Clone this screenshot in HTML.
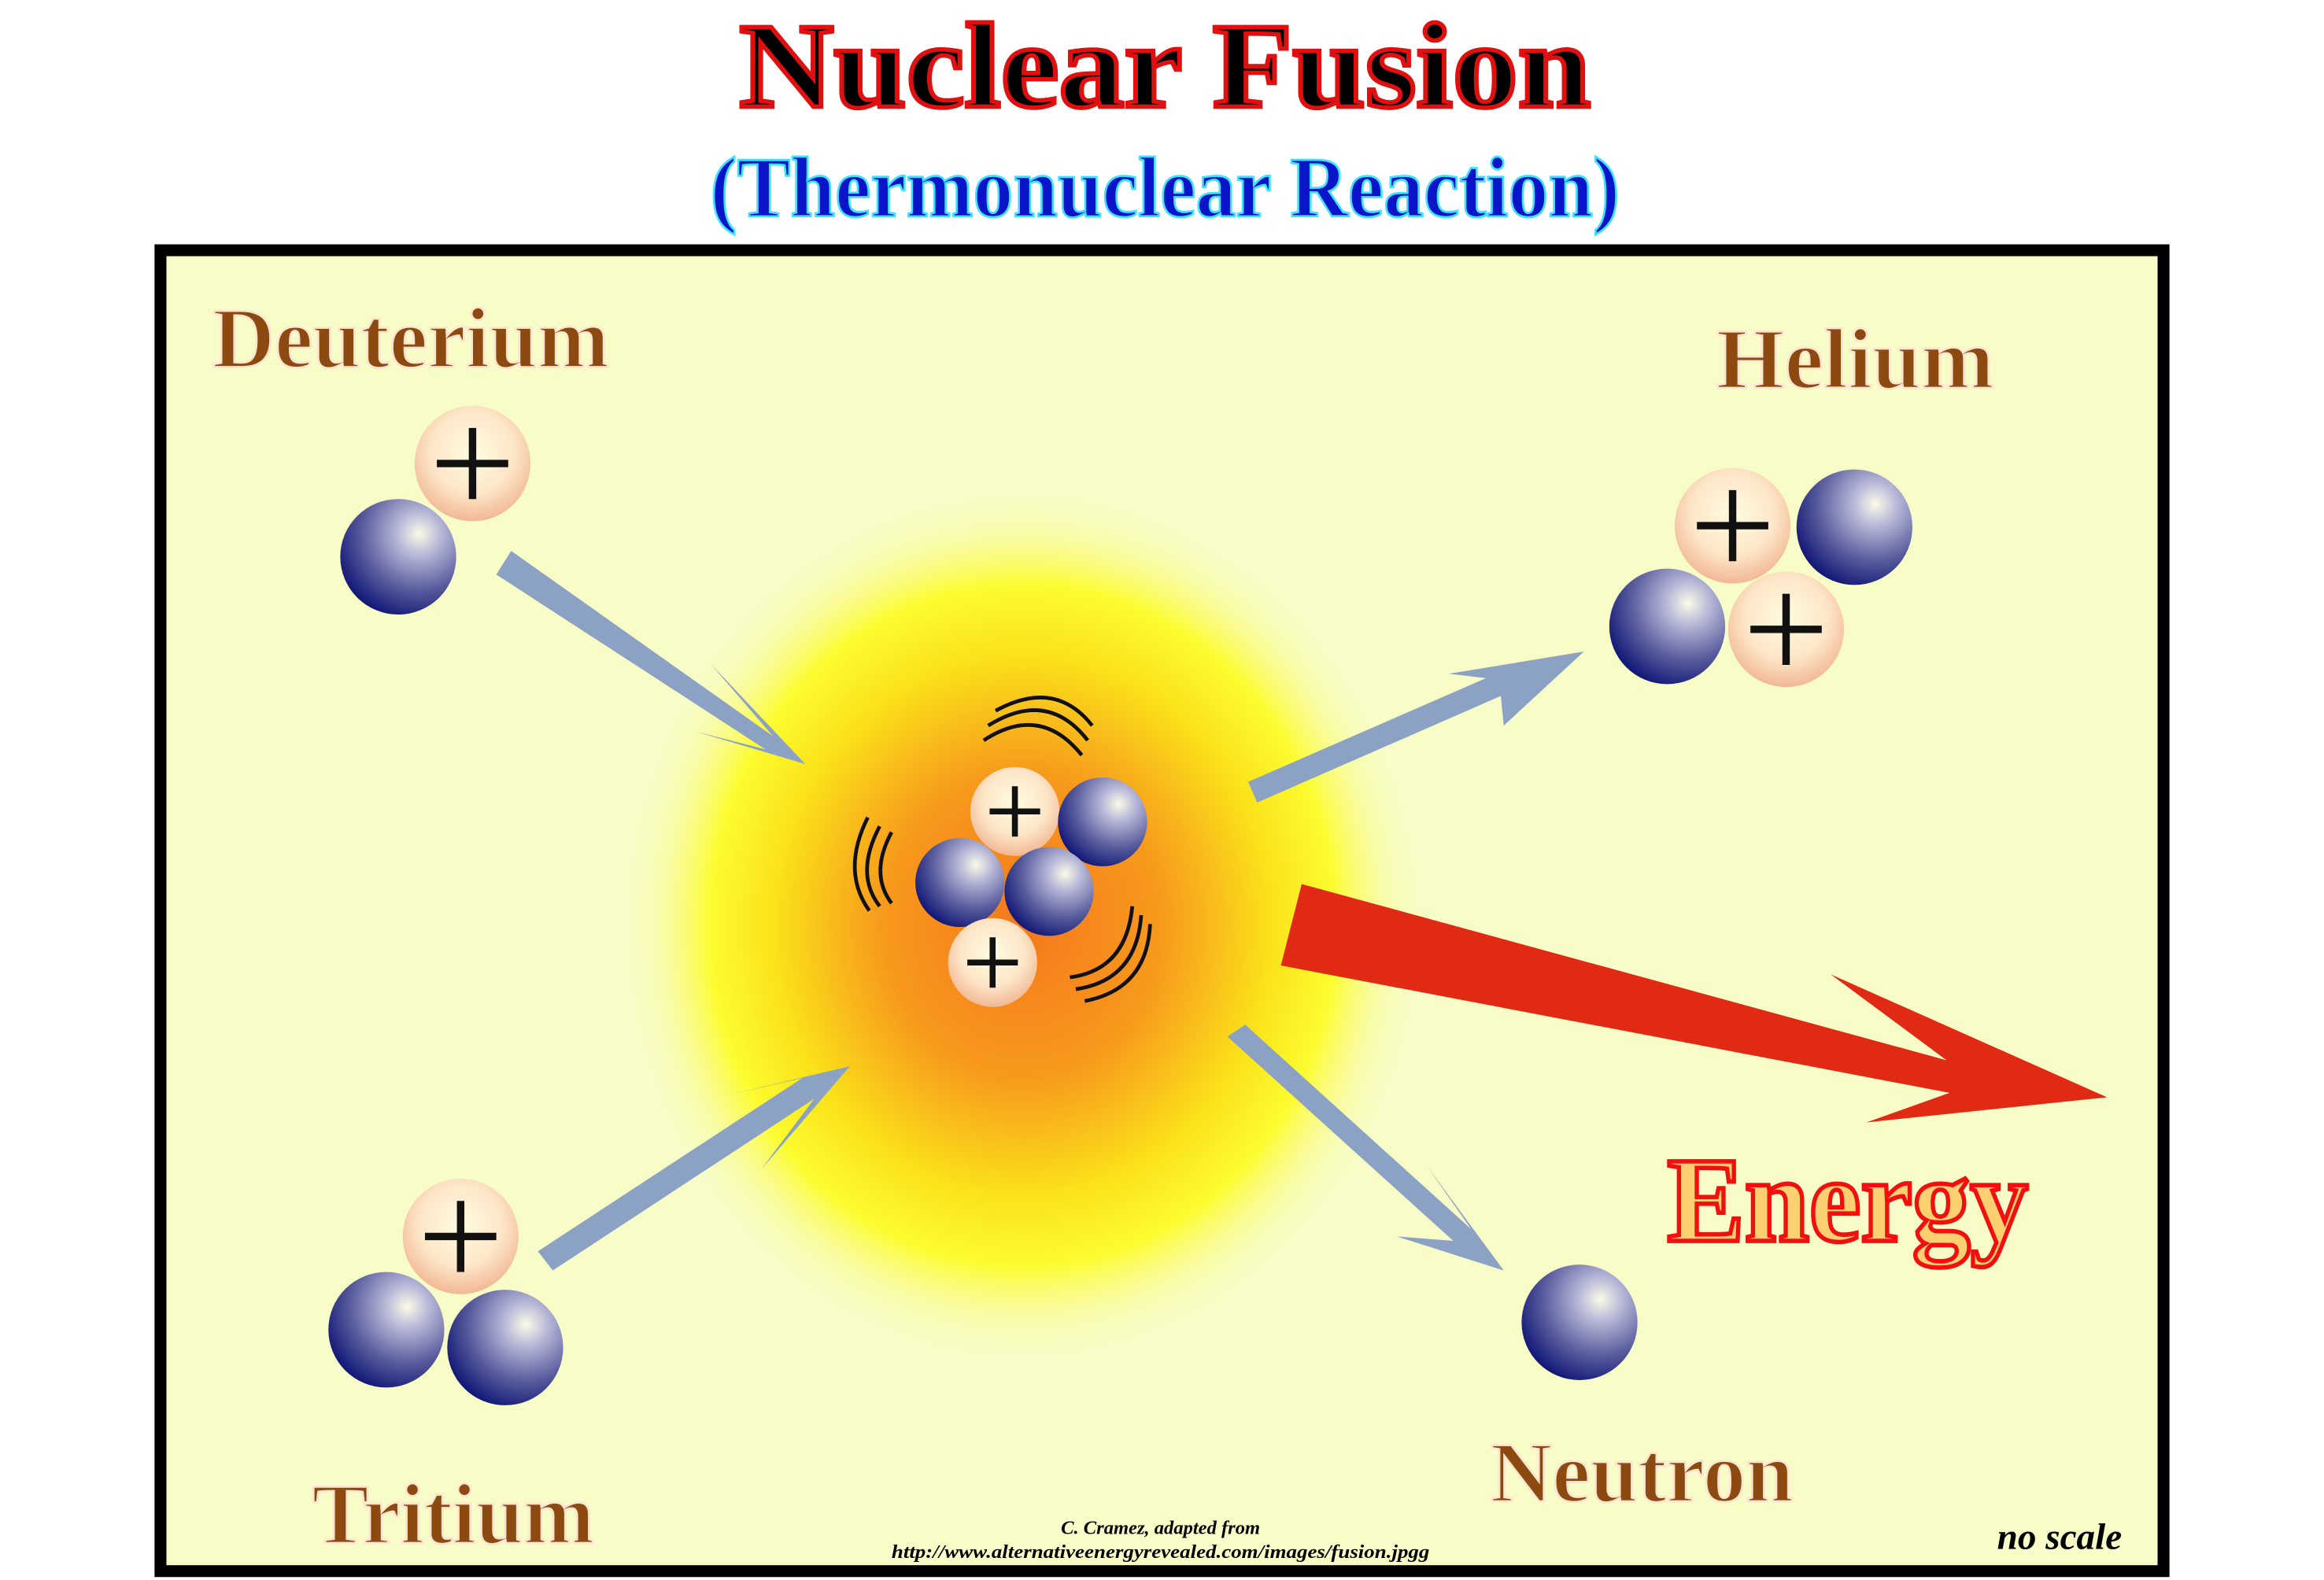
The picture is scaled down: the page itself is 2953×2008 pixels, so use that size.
<!DOCTYPE html>
<html><head><meta charset="utf-8"><style>html,body{margin:0;padding:0;background:#fff}svg{display:block}</style></head>
<body>
<svg width="2953" height="2008" viewBox="0 0 1564 1067" preserveAspectRatio="none" xmlns="http://www.w3.org/2000/svg">
<defs>
<radialGradient id="glow" cx="0.5" cy="0.5" r="0.5">
<stop offset="0" stop-color="#f4781c"/>
<stop offset="0.35" stop-color="#f79a1c"/>
<stop offset="0.62" stop-color="#fbe21a"/>
<stop offset="0.78" stop-color="#fcfc30"/>
<stop offset="1" stop-color="#f8fcc6" stop-opacity="0"/>
</radialGradient>
<radialGradient id="neu" cx="0.68" cy="0.3" r="0.75">
<stop offset="0" stop-color="#fbfbe8"/>
<stop offset="0.25" stop-color="#b8b8d8"/>
<stop offset="0.65" stop-color="#5a5e9e"/>
<stop offset="1" stop-color="#141a78"/>
</radialGradient>
<radialGradient id="pro" cx="0.5" cy="0.4" r="0.6">
<stop offset="0" stop-color="#fffce0"/>
<stop offset="0.6" stop-color="#fde6c8"/>
<stop offset="1" stop-color="#f2b894"/>
</radialGradient>
<g id="N"><circle r="39" fill="url(#neu)"/></g>
<g id="P"><circle r="39" fill="url(#pro)"/><path d="M-24 0H24M0 -24V24" stroke="#111" stroke-width="5"/></g>
<g id="n"><circle r="30" fill="url(#neu)"/></g>
<g id="p"><circle r="30" fill="url(#pro)"/><path d="M-17 0H17M0 -17V17" stroke="#111" stroke-width="4"/></g>
</defs>
<rect width="1564" height="1067" fill="#fff"/>
<text x="784" y="72" text-anchor="middle" font-family="Liberation Serif, serif" font-weight="bold" font-size="82" textLength="573" lengthAdjust="spacingAndGlyphs" fill="#000" stroke="#e01010" stroke-width="3">Nuclear Fusion</text>
<text x="784" y="146" text-anchor="middle" font-family="Liberation Serif, serif" font-weight="bold" font-size="58" textLength="612" lengthAdjust="spacingAndGlyphs" fill="#0a14c8" stroke="#40e0ff" stroke-width="1.5">(Thermonuclear Reaction)</text>
<rect x="108" y="169" width="1348" height="892" fill="#f8fcc6" stroke="#000" stroke-width="8"/>
<ellipse cx="688" cy="625" rx="270" ry="295" fill="url(#glow)"/>
<g fill="#8ca2c4">
<polygon points="334,388 344,372 520,497 478,448 542,516 468,494 515,506"/>
<polygon points="362,845 372,858 548,742 512,790 572,720 488,740 540,728"/>
<polygon points="840,528 846,542 1010,470 1012,490 1066,440 975,455 1000,458"/>
<polygon points="826,700 838,692 990,830 960,787 1012,858 940,835 978,838"/>
</g>
<polygon points="876,597 1310,716 1232,658 1418,741 1256,758 1312,738 862,652" fill="#e02a14"/>
<use href="#P" x="318" y="313"/><use href="#N" x="268" y="376"/>
<use href="#P" x="1166" y="355"/><use href="#N" x="1248" y="356"/><use href="#N" x="1122" y="423"/><use href="#P" x="1202" y="425"/>
<use href="#P" x="310" y="835"/><use href="#N" x="260" y="898"/><use href="#N" x="340" y="910"/>
<use href="#N" x="1063" y="893"/>
<use href="#p" x="683" y="548"/><use href="#n" x="742" y="555"/><use href="#n" x="646" y="596"/><use href="#n" x="706" y="602"/><use href="#p" x="668" y="650"/>
<g fill="none" stroke="#111" stroke-width="2.5">
<path d="M662 500 Q700 475 728 510"/><path d="M665 490 Q705 465 732 500"/><path d="M670 480 Q710 458 735 490"/>
<path d="M592 558 Q575 590 592 612"/><path d="M584 552 Q566 588 585 615"/><path d="M600 562 Q585 590 600 610"/>
<path d="M720 660 Q758 655 762 612"/><path d="M724 668 Q765 662 768 618"/><path d="M730 676 Q772 668 774 624"/>
</g>
<g font-family="Liberation Serif, serif" font-weight="bold" fill="#8c4a10" stroke="#fde6d0" stroke-width="1.5">
<text x="143" y="248" font-size="58" textLength="267" lengthAdjust="spacingAndGlyphs">Deuterium</text>
<text x="1155" y="262" font-size="58" textLength="187" lengthAdjust="spacingAndGlyphs">Helium</text>
<text x="210" y="1042" font-size="58" textLength="190" lengthAdjust="spacingAndGlyphs">Tritium</text>
<text x="1003" y="1014" font-size="58" textLength="204" lengthAdjust="spacingAndGlyphs">Neutron</text>
</g>
<text x="1122" y="838" font-family="Liberation Serif, serif" font-weight="bold" font-size="82" textLength="243" lengthAdjust="spacingAndGlyphs" fill="#fcd070" stroke="#f01010" stroke-width="3">Energy</text>
<g font-family="Liberation Serif, serif" font-weight="bold" font-style="italic" fill="#000" text-anchor="middle">
<text x="781" y="1036" font-size="13">C. Cramez, adapted from</text>
<text x="781" y="1052" font-size="13" textLength="362" lengthAdjust="spacingAndGlyphs">http://www.alternativeenergyrevealed.com/images/fusion.jpgg</text>
<text x="1386" y="1046" font-size="25">no scale</text>
</g>
</svg>
</body></html>
